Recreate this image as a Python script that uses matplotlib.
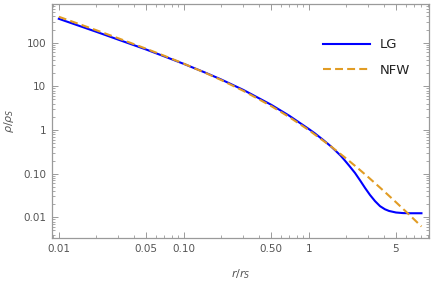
import matplotlib
matplotlib.use('Agg')
import matplotlib.pyplot as plt
from matplotlib.ticker import FixedLocator, FixedFormatter, LogLocator, NullFormatter

# values
r_lg = [0.01, 0.02, 0.03, 0.05, 0.07, 0.1, 0.15, 0.2, 0.3, 0.5, 0.7, 1.0, 1.12,
        1.3, 1.5, 1.62, 1.8, 1.95, 2.1, 2.35, 2.6, 2.83, 3.1, 3.4, 3.73, 4.08,
        4.4, 5.0, 5.7, 6.5, 8.0]
rho_lg = [352, 177, 117, 69.7, 48.4, 32.7, 20.4, 14.3, 8.28, 3.80, 2.12, 1.06, 0.84,
          0.60, 0.427, 0.348, 0.26, 0.20, 0.155, 0.104, 0.068, 0.047, 0.0325, 0.0235,
          0.0180, 0.0153, 0.0140, 0.0129, 0.0125, 0.0124, 0.0124]

r_nfw = [0.01, 0.02, 0.03, 0.05, 0.07, 0.1, 0.15, 0.2, 0.3, 0.5, 0.7, 1.0, 1.5,
         2.0, 2.5, 3.0, 4.0, 5.0, 6.0, 7.0, 8.0]
rho_nfw = [392.1, 192.2, 125.7, 72.56, 49.93, 33.06, 20.16, 13.89, 7.890, 3.556,
           1.977, 1.000, 0.4267, 0.2222, 0.1306, 0.0833, 0.0400, 0.02222, 0.01361,
           0.008929, 0.006173]

xticks = [0.01, 0.05, 0.1, 0.5, 1, 5]
xticklabels = ['0.01', '0.05', '0.10', '0.50', '1', '5']
yticks = [0.01, 0.1, 1, 10, 100]
yticklabels = ['0.01', '0.10', '1', '10', '100']

plt.rcParams['mathtext.fontset'] = 'dejavusans'
gray = '#9a9a9a'
txt = '#555555'

fig = plt.figure(figsize=(4.36, 2.82), dpi=100)
ax = fig.add_axes([0.119, 0.156, 0.865, 0.830])

ax.plot(r_lg, rho_lg, color='#0000ff', lw=1.5, label='LG', zorder=3)
ax.plot(r_nfw, rho_nfw, color='#e19c24', lw=1.5, ls=(0, (3.8, 2.0)), label='NFW', zorder=4)

ax.set_xscale('log')
ax.set_yscale('log')
ax.set_xlim(0.0088, 9.2)
ax.set_ylim(0.00336, 770)

ax.xaxis.set_major_locator(FixedLocator(xticks))
ax.xaxis.set_major_formatter(FixedFormatter(xticklabels))
ax.xaxis.set_minor_locator(LogLocator(base=10, subs=range(1, 10)))
ax.xaxis.set_minor_formatter(NullFormatter())
ax.yaxis.set_major_locator(FixedLocator(yticks))
ax.yaxis.set_major_formatter(FixedFormatter(yticklabels))
ax.yaxis.set_minor_locator(LogLocator(base=10, subs=range(1, 10)))
ax.yaxis.set_minor_formatter(NullFormatter())

ax.tick_params(which='both', direction='in', top=True, right=True, color=gray,
               labelcolor=txt, labelsize=7.5)
ax.tick_params(which='major', length=4, width=0.7, pad=4)
ax.tick_params(which='minor', length=2, width=0.6)
for s in ax.spines.values():
    s.set_color(gray)
    s.set_linewidth(0.9)

ax.set_xlabel(r'$r/r_S$', color=txt, fontsize=8, labelpad=10)
ax.set_ylabel(r'$\rho/\rho_S$', color=txt, fontsize=8, labelpad=5)

leg = ax.legend(loc='upper left', bbox_to_anchor=(0.718, 0.853), frameon=False,
                fontsize=9.5, handlelength=3.6, handletextpad=0.75, labelspacing=0.95,
                borderpad=0, borderaxespad=0)
for t in leg.get_texts():
    t.set_color('#222222')

fig.savefig('out.png', dpi=100)
